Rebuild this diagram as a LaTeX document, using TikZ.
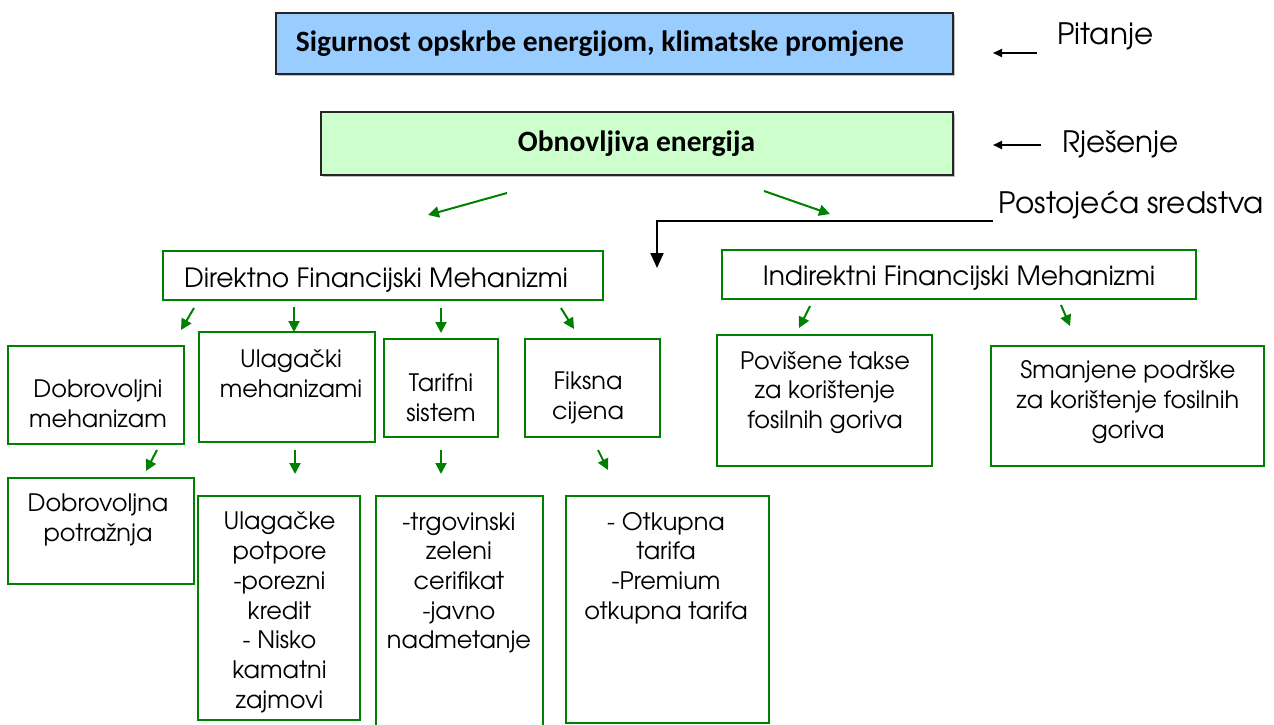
\documentclass[tikz,border=0pt]{standalone}
\usepackage{fontspec}
\setmainfont{texgyreadventor}[Extension=.otf, UprightFont=*-regular, BoldFont=*-bold, ItalicFont=*-italic, BoldItalicFont=*-bolditalic]
\newfontfamily\titlefont{Carlito}
\usetikzlibrary{arrows.meta}
\definecolor{gline}{HTML}{008000}
\definecolor{bluefill}{HTML}{99CCFF}
\definecolor{greenfill}{HTML}{CCFFCC}
\tikzset{
  gbox/.style={draw=gline, line width=2pt, inner sep=0pt, fill=white},
  topbox/.style={draw=black!85, line width=1.5pt, inner sep=0pt},
  txt/.style={align=center, inner sep=0pt, font=\fontsize{24}{29.7}\selectfont},
  bigtxt/.style={align=center, inner sep=0pt, font=\fontsize{26.5}{30}\selectfont},
  side/.style={anchor=west, inner sep=0pt, font=\fontsize{29.5}{34}\selectfont},
  ttl/.style={inner sep=0pt, font=\titlefont\bfseries\fontsize{29.5}{34}\selectfont},
  garrow/.style={draw=gline, line width=2pt, -{Triangle[width=11pt,length=11pt]}},
  karrow/.style={draw=black, line width=2pt, -{Triangle[width=8pt,length=9pt]}},
  bigarrow/.style={draw=black, line width=2pt, -{Triangle[width=13pt,length=15pt]}}
}
\begin{document}
\begin{tikzpicture}[x=1pt,y=-1pt]
\useasboundingbox (0,0) rectangle (1274,725);
% top boxes
\fill[black!25] (278,15) rectangle (955,76);
\node[topbox, fill=bluefill, minimum width=677pt, minimum height=61pt] (q) at (614.5,43.5) {};
\node[ttl] (qt) at (600,43.5) {Sigurnost opskrbe energijom, klimatske promjene};
\fill[black!25] (323,114) rectangle (955,177);
\node[topbox, fill=greenfill, minimum width=632pt, minimum height=63pt] (s) at (637,143.5) {};
\node[ttl] (st) at (636.5,143.5) {Obnovljiva energija};
% side labels
\node[side] (pit) at (1057,36) {Pitanje};
\node[side] (rje) at (1062,144) {Rješenje};
\node[side] (pos) at (998,205) {Postojeća sredstva};
\coordinate (pa1) at (1037,53); \coordinate (pa2) at (993,53);
\coordinate (ra1) at (1041,145); \coordinate (ra2) at (993,145);
\draw[karrow] (pa1) -- (pa2);
\draw[karrow] (ra1) -- (ra2);
\coordinate (ps1) at (993,221); \coordinate (ps2) at (657,268);
\draw[bigarrow] (ps1) -- (ps1 -| ps2) -- (ps2);
% green arrows from renewable energy
\coordinate (la1) at (507,193); \coordinate (la2) at (428,215);
\coordinate (ra3) at (764,191); \coordinate (ra4) at (830,214);
\draw[garrow] (la1) -- (la2);
\draw[garrow] (ra3) -- (ra4);
% level 1
\node[gbox, minimum width=440pt, minimum height=49pt] (dir) at (383,275.5) {};
\node[bigtxt] (dirt) at (376,280) {Direktno Financijski Mehanizmi};
\node[gbox, minimum width=474pt, minimum height=49pt] (ind) at (959,274.5) {};
\node[bigtxt] (indt) at (959,278) {Indirektni Financijski Mehanizmi};
% arrows level1 -> level2
\coordinate (a1) at (194,308); \coordinate (b1) at (181,330);
\coordinate (a2) at (294,307); \coordinate (b2) at (294,332);
\coordinate (a3) at (441,308); \coordinate (b3) at (441,333);
\coordinate (a4) at (561,308); \coordinate (b4) at (574,329);
\coordinate (a5) at (810,306); \coordinate (b5) at (799,328);
\coordinate (a6) at (1061,305); \coordinate (b6) at (1070,326);
\foreach \i in {1,...,6} {\draw[garrow] (a\i) -- (b\i);}
% level 2
\node[gbox, minimum width=176pt, minimum height=98pt] (dm) at (96,395) {};
\node[txt] (dmt) at (98,404) {Dobrovoljni\\mehanizam};
\node[gbox, minimum width=176pt, minimum height=110pt] (um) at (287,387) {};
\node[txt] (umt) at (291,374) {Ulagački\\mehanizami};
\node[gbox, minimum width=114pt, minimum height=98pt] (ts) at (441,388) {};
\node[txt] (tst) at (441,398) {Tarifni\\sistem};
\node[gbox, minimum width=135pt, minimum height=98pt] (fc) at (592.5,388) {};
\node[txt] (fct) at (588,398) {Fiksna\\cijena};
\node[gbox, minimum width=215pt, minimum height=131pt] (pt) at (824.5,400.5) {};
\node[txt] (ptt) at (825,392.5) {Povišene takse\\za korištenje\\fosilnih goriva};
\node[gbox, minimum width=273pt, minimum height=120pt] (sp) at (1127.5,406) {};
\node[txt] (spt) at (1128,402) {Smanjene podrške\\za korištenje fosilnih\\goriva};
% arrows level2 -> level3
\coordinate (c1) at (157,450); \coordinate (d1) at (146,471);
\coordinate (c2) at (295,450); \coordinate (d2) at (295,474);
\coordinate (c3) at (441,450); \coordinate (d3) at (441,474);
\coordinate (c4) at (598,450); \coordinate (d4) at (608,470);
\foreach \i in {1,...,4} {\draw[garrow] (c\i) -- (d\i);}
% level 3
\node[gbox, minimum width=186pt, minimum height=106pt] (dp) at (101,531) {};
\node[txt] (dpt) at (98,520) {Dobrovoljna\\potražnja};
\node[gbox, minimum width=162pt, minimum height=224pt] (up) at (279,608) {};
\node[txt] (upt) at (279.5,612.5) {Ulagačke\\potpore\\-porezni\\kredit\\- Nisko\\kamatni\\zajmovi};
\node[gbox, minimum width=167pt, minimum height=236pt] (tz) at (459.5,614) {};
\node[txt] (tzt) at (459,583) {-trgovinski\\zeleni\\cerifikat\\-javno\\nadmetanje};
\node[gbox, minimum width=203pt, minimum height=227pt] (ot) at (667.5,609.5) {};
\node[txt] (ott) at (666,568) {- Otkupna\\tarifa\\-Premium\\otkupna tarifa};
\end{tikzpicture}
\end{document}
